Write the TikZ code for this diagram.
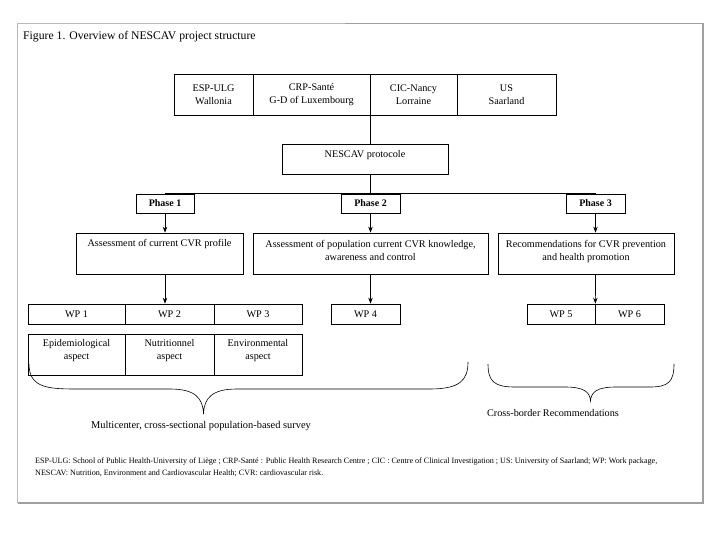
\documentclass[tikz,border=0pt]{standalone}
\usepackage{fontspec}
\setmainfont{Liberation Serif}
\usetikzlibrary{arrows.meta,calc}
\begin{document}
\begin{tikzpicture}[x=1pt,y=-1pt,
  box/.style={draw, line width=0.7pt, inner sep=0pt, align=center, font=\fontsize{10.2}{12.5}\selectfont},
  phasebox/.style={box, font=\fontsize{10}{12}\selectfont\bfseries},
  txt/.style={inner sep=0pt, align=center, font=\fontsize{10.2}{13}\selectfont},
  link/.style={line width=0.7pt},
  arr/.style={line width=0.7pt, -{Stealth[length=6pt,width=4.5pt]}},
  brace/.style={line width=0.6pt}]
\useasboundingbox (0,0) rectangle (720,540);
% frame
\draw[gray!55, line width=1pt] (345,23.5) -- (17.5,23.5) -- (17.5,503);
\draw[gray!75, line width=1.5pt] (345,23.5) -- (703,23.5) -- (703,503) -- (17.5,503);
\node[inner sep=0pt, anchor=west, font=\fontsize{11.7}{14}\selectfont] (title) at (23,37) {Figure 1. Overview of NESCAV project structure};
% partners
\node[box, minimum width=79, minimum height=41] (esp) at (213.5,94.5) {ESP-ULG\\Wallonia};
\node[box, minimum width=117, minimum height=41] (crp) at (311.5,94.5) {CRP-Santé\\G-D of Luxembourg};
\node[box, minimum width=87, minimum height=41] (cic) at (413.5,94.5) {CIC-Nancy\\Lorraine};
\node[box, minimum width=99, minimum height=41] (us) at (506.5,94.5) {US\\Saarland};
% protocol
\node[box, minimum width=166, minimum height=30] (nes) at (365,159) {};
\node[txt] (nest) at (365,155) {NESCAV protocole};
% phases
\node[phasebox, minimum width=58, minimum height=19] (p1) at (165,203.5) {Phase 1};
\node[phasebox, minimum width=59, minimum height=19] (p2) at (370.5,203.5) {Phase 2};
\node[phasebox, minimum width=59, minimum height=19] (p3) at (595.5,203.5) {Phase 3};
% assessments
\node[box, minimum width=167, minimum height=41] (a1) at (159.5,253.5) {};
\node[box, minimum width=235, minimum height=41] (a2) at (370.5,253.5) {};
\node[box, minimum width=176, minimum height=41] (a3) at (586,253.5) {};
\node[txt] (a1t) at (159.5,244) {Assessment of current CVR profile};
\node[txt] (a2t) at (370.5,250.5) {Assessment of population current CVR knowledge,\\awareness and control};
\node[txt] (a3t) at (586,251) {Recommendations for CVR prevention\\and health promotion};
% work packages
\node[box, minimum width=97, minimum height=20] (wp1) at (76.5,314) {WP 1};
\node[box, minimum width=89, minimum height=20] (wp2) at (169.5,314) {WP 2};
\node[box, minimum width=88, minimum height=20] (wp3) at (258,314) {WP 3};
\node[box, minimum width=69, minimum height=20] (wp4) at (365.5,314) {WP 4};
\node[box, minimum width=68, minimum height=20] (wp5) at (561,314) {WP 5};
\node[box, minimum width=69, minimum height=20] (wp6) at (629.5,314) {WP 6};
% aspects
\node[box, minimum width=97, minimum height=41] (ep) at (76.5,354.5) {};
\node[box, minimum width=89, minimum height=41] (nu) at (169.5,354.5) {};
\node[box, minimum width=88, minimum height=41] (en) at (258,354.5) {};
\node[txt] (ept) at (76.5,351) {Epidemiological\\aspect};
\node[txt] (nut) at (169.5,351) {Nutritionnel\\aspect};
\node[txt] (ent) at (258,351) {Environmental\\aspect};
% connectors
\draw[link] (crp.south east) -- (crp.south east |- nes.north);
\draw[link] (nes.south -| p2.north) -- (p2.north);
\draw[link] (p1.north) -- (p3.north);
\draw[arr] (p1.south) -- (p1.south |- a1.north);
\draw[arr] (p2.south) -- (p2.south |- a2.north);
\draw[arr] (p3.south) -- (p3.south |- a3.north);
\draw[arr] (p1.south |- a1.south) -- (p1.south |- wp2.north);
\draw[arr] (p2.south |- a2.south) -- (p2.south |- wp4.north);
\draw[arr] (p3.south |- a3.south) -- (wp5.north east);
% braces
\draw[brace] (29,364) .. controls (29,389) and (50,389) .. (80,389) -- (170,389)
  .. controls (195,389) and (203,398) .. (203.5,414)
  .. controls (204,398) and (212,389) .. (237,389) -- (430,389)
  .. controls (460,389) and (468,380) .. (468,362);
\draw[brace] (488,364) .. controls (488,382) and (495,387) .. (515,387) -- (565,387)
  .. controls (584,387) and (590,392) .. (590.5,401)
  .. controls (591,392) and (597,387) .. (616,387) -- (650,387)
  .. controls (668,387) and (674,382) .. (674,364);
\node[txt, font=\fontsize{10.4}{13}\selectfont] (multi) at (201,426) {Multicenter, cross-sectional population-based survey};
\node[txt] (cross) at (553,413) {Cross-border Recommendations};
% footnote
\node[inner sep=0pt, anchor=north west, align=left, font=\fontsize{8.1}{12}\selectfont] (foot) at (35,458) {ESP-ULG: School of Public Health-University of Liège ; CRP-Santé : Public Health Research Centre ; CIC : Centre of Clinical Investigation ; US: University of Saarland; WP: Work package,\\NESCAV: Nutrition, Environment and Cardiovascular Health; CVR: cardiovascular risk.};
\end{tikzpicture}
\end{document}
